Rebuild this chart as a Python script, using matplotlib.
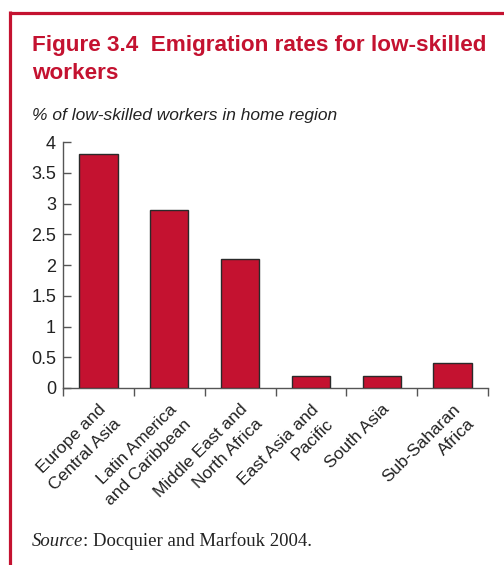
import matplotlib
matplotlib.use("Agg")
import matplotlib.pyplot as plt
from matplotlib.lines import Line2D

regions = [
    "Europe and\nCentral Asia",
    "Latin America\nand Caribbean",
    "Middle East and\nNorth Africa",
    "East Asia and\nPacific",
    "South Asia",
    "Sub-Saharan\nAfrica",
]
rates = [3.8, 2.9, 2.1, 0.2, 0.2, 0.4]
y_ticks = [0, 0.5, 1, 1.5, 2, 2.5, 3, 3.5, 4]
y_tick_labels = ["0", "0.5", "1", "1.5", "2", "2.5", "3", "3.5", "4"]

RED = "#c41230"
W, H = 504, 565
SERIF = ["Liberation Serif", "DejaVu Serif"]

plt.rcParams["font.family"] = ["Liberation Sans", "DejaVu Sans"]

fig = plt.figure(figsize=(W / 100, H / 100), dpi=100)

# red frame (top and left)
fig.add_artist(Line2D([9.5 / W, 1.0], [1 - 12.5 / H, 1 - 12.5 / H], color=RED, lw=2.3,
                      transform=fig.transFigure, solid_capstyle="butt"))
fig.add_artist(Line2D([9.5 / W, 9.5 / W], [1 - 11 / H, 0.0], color=RED, lw=2.3,
                      transform=fig.transFigure, solid_capstyle="butt"))

fig.text(32 / W, 1 - 51 / H, "Figure 3.4  Emigration rates for low-skilled", color=RED,
         fontsize=16.2, fontweight="bold", ha="left", va="baseline")
fig.text(32 / W, 1 - 79 / H, "workers", color=RED,
         fontsize=16.2, fontweight="bold", ha="left", va="baseline")
fig.text(32 / W, 1 - 120 / H, "% of low-skilled workers in home region", color="#222222",
         fontsize=12.5, style="italic", ha="left", va="baseline")

ax = fig.add_axes([63 / W, 1 - 388 / H, (488 - 63) / W, (388 - 142) / H])
x = list(range(len(regions)))
ax.bar(x, rates, width=0.54, color=RED, edgecolor="#2a2a2a", linewidth=1.0, zorder=3)

ax.set_xlim(-0.5, len(regions) - 0.5)
ax.set_ylim(0, 4)
ax.set_yticks(y_ticks)
ax.set_yticklabels(y_tick_labels, fontsize=13, color="#222222")
ax.set_xticks([i - 0.5 for i in range(len(regions) + 1)])
ax.set_xticklabels([])
ax.tick_params(axis="y", direction="in", length=6, width=1.0, color="#555555", pad=5)
ax.tick_params(axis="x", direction="out", length=5.5, width=1.0, color="#555555")
for side in ("top", "right"):
    ax.spines[side].set_visible(False)
for side in ("left", "bottom"):
    ax.spines[side].set_color("#555555")
    ax.spines[side].set_linewidth(1.0)

# rotated category labels, lines right-aligned
for i, lab in enumerate(regions):
    ax.annotate(lab, xy=(i, 0), xycoords=("data", "axes fraction"),
                xytext=(0, -10), textcoords="offset points",
                rotation=45, rotation_mode="anchor", ha="right", va="top",
                multialignment="right", fontsize=12.5, color="#222222",
                linespacing=1.45)

# source note: italic "Source" followed by plain text on the same baseline
src_y = 1 - 546 / H
src = fig.text(32 / W, src_y, "Source", family=SERIF,
               style="italic", fontsize=13.5, color="#222222", ha="left", va="baseline")
fig.canvas.draw()
bb = src.get_window_extent(renderer=fig.canvas.get_renderer())
fig.text(bb.x1 / fig.bbox.width, src_y, ": Docquier and Marfouk 2004.", family=SERIF,
         fontsize=13.5, color="#222222", ha="left", va="baseline")

fig.savefig("out.png", dpi=100)
